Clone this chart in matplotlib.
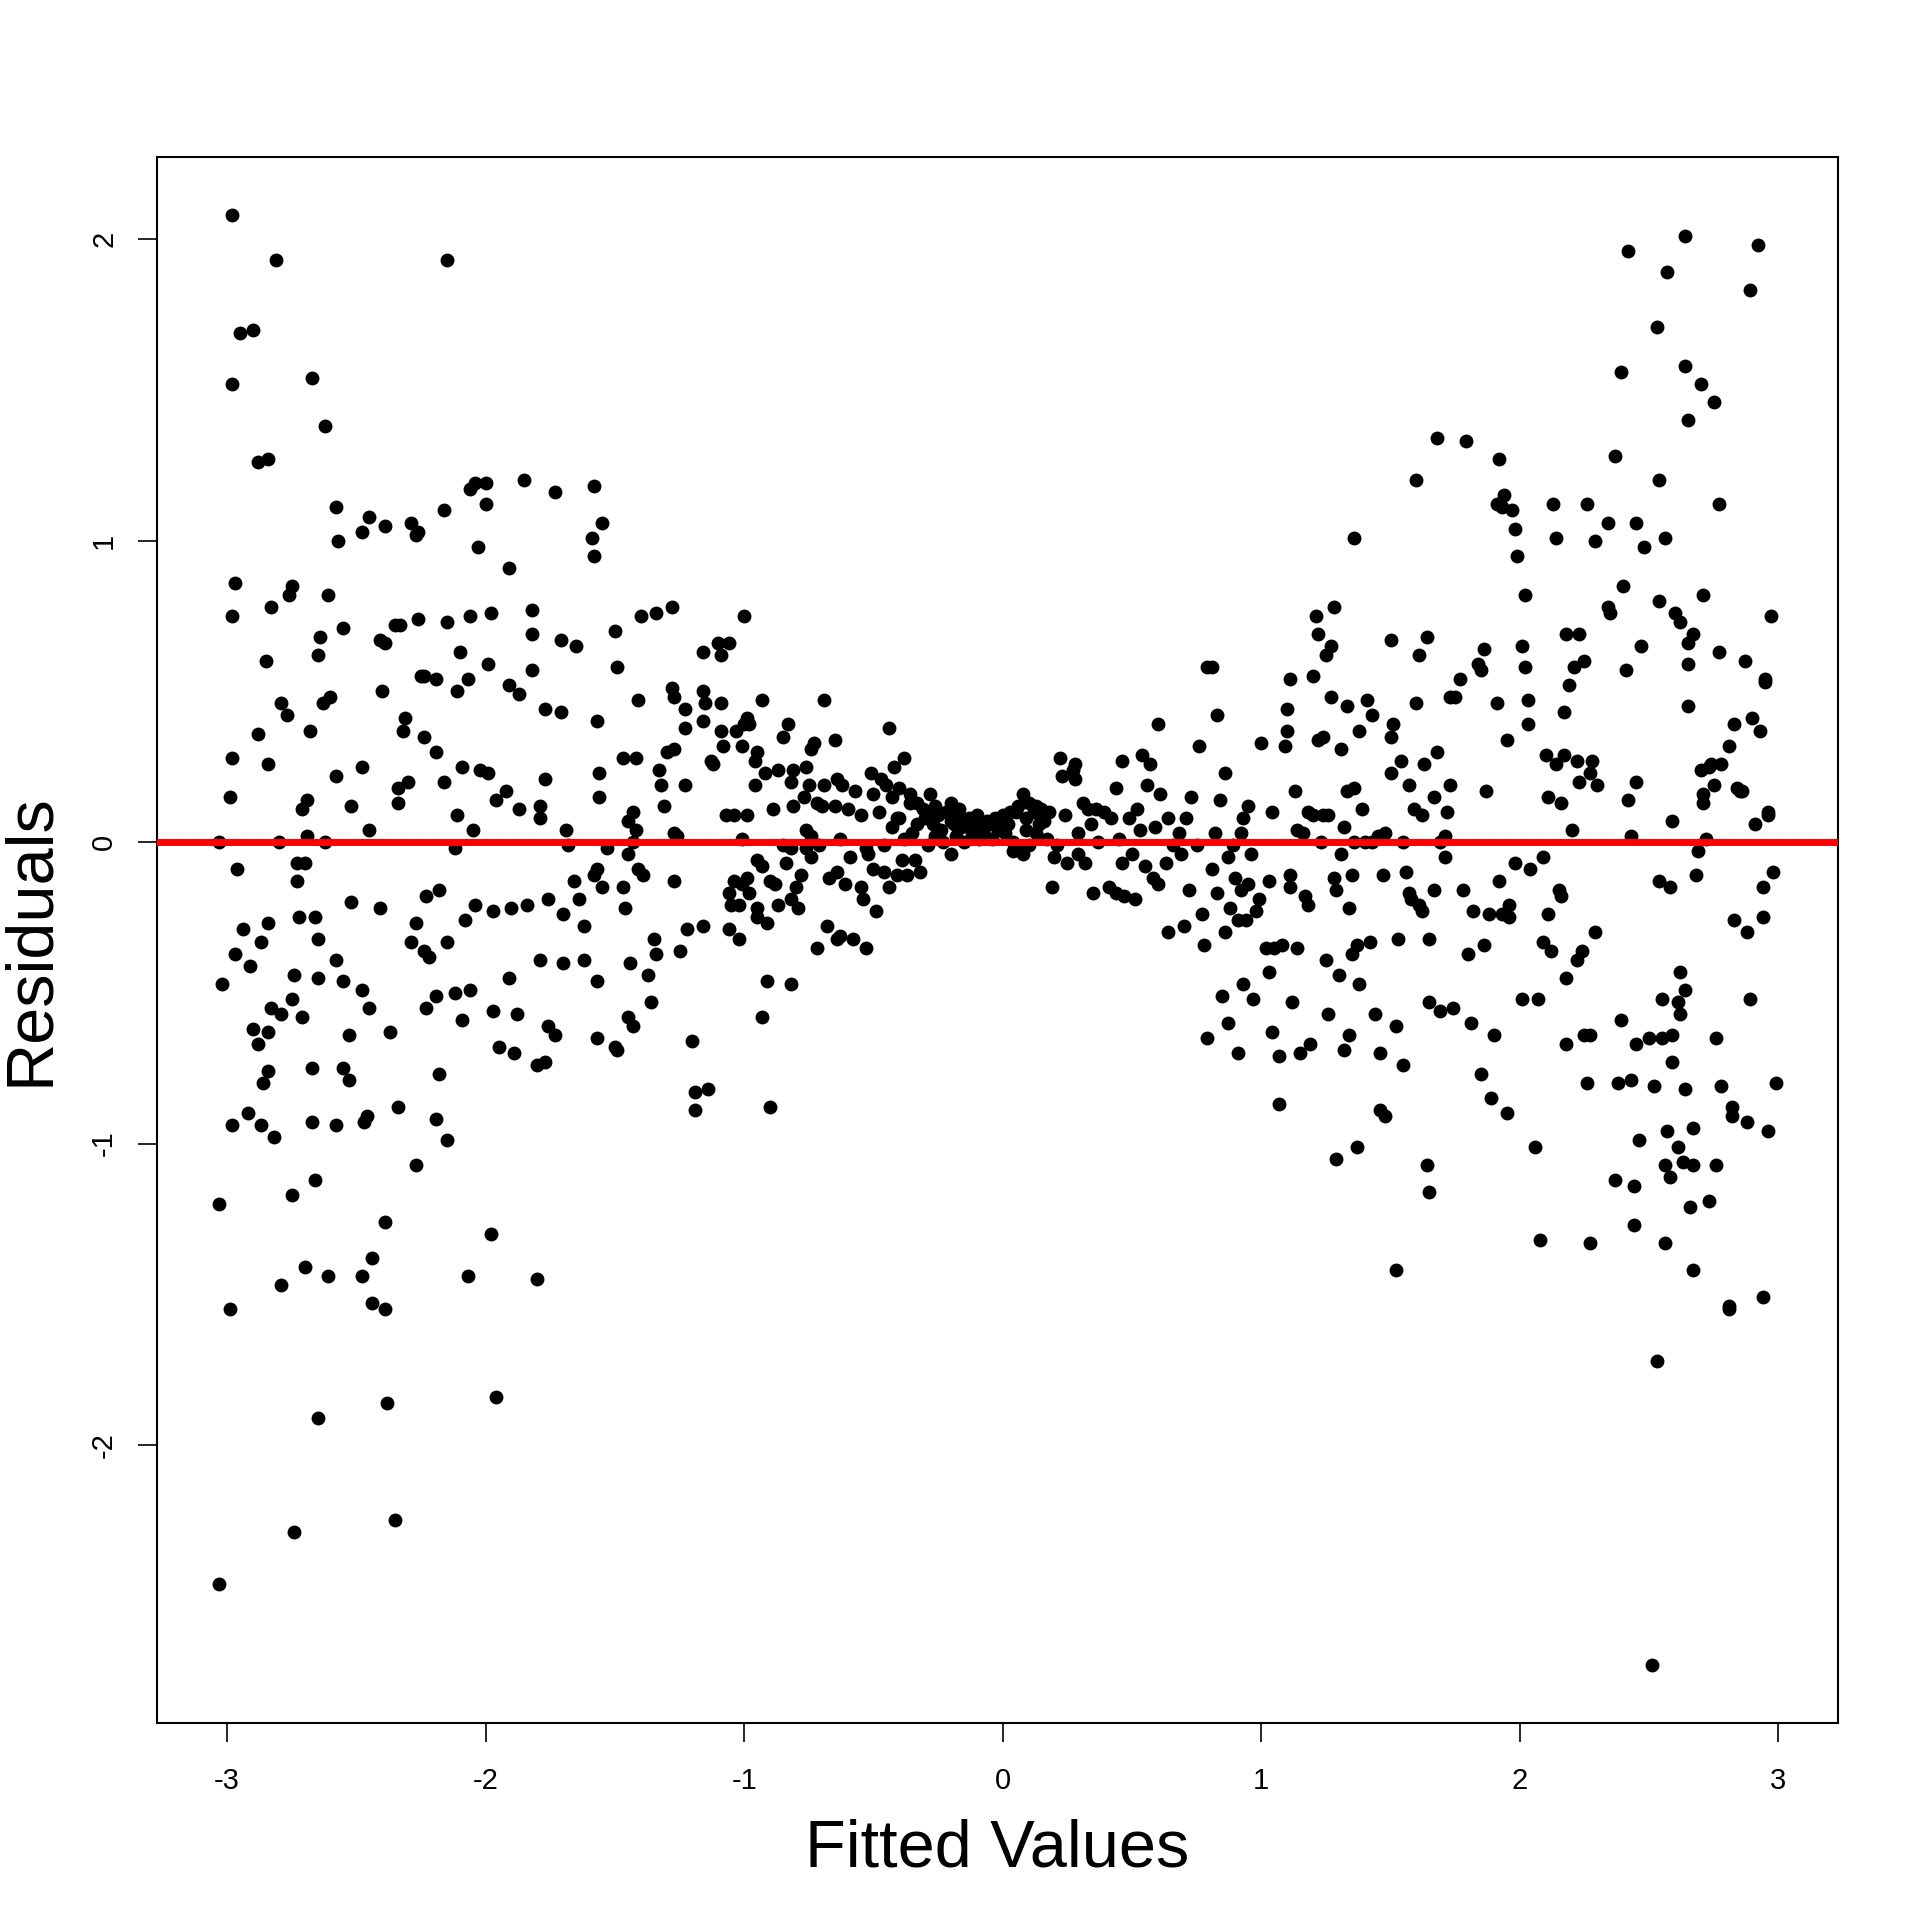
import numpy as np
import matplotlib
matplotlib.use('Agg')
import matplotlib.pyplot as plt

# (fitted, residual) pairs, grouped by fitted-value band
band_m300 = [(-2.98, 2.08), (-2.98, 1.52), (-2.95, 1.69), (-2.90, 1.70), (-2.81, 1.93),
             (-2.88, 1.26), (-2.84, 1.27), (-2.97, 0.86), (-2.98, 0.75), (-2.83, 0.78),
             (-2.85, 0.60), (-2.76, 0.82), (-2.75, 0.85), (-2.79, 0.46), (-2.77, 0.42),
             (-2.98, 0.28), (-2.88, 0.36), (-2.84, 0.26), (-2.99, 0.15), (-3.03, 0.00),
             (-2.96, -0.09), (-2.97, -0.37), (-2.94, -0.29), (-2.91, -0.41), (-3.02, -0.47),
             (-2.90, -0.62), (-2.88, -0.67), (-2.84, -0.63), (-2.86, -0.80), (-2.84, -0.76),
             (-2.83, -0.55), (-2.82, -0.98), (-2.79, -0.57), (-2.87, -0.33), (-2.84, -0.27),
             (-2.80, 0.00), (-2.98, -0.94), (-2.92, -0.90), (-2.87, -0.94), (-3.03, -1.20),
             (-2.99, -1.55), (-2.79, -1.47), (-3.03, -2.46), (-2.75, -1.17), (-2.74, -2.29)]

band_m275 = [(-2.67, 1.54), (-2.62, 1.38), (-2.58, 1.11), (-2.57, 1.00), (-2.61, 0.82),
             (-2.64, 0.68), (-2.65, 0.62), (-2.68, 0.37), (-2.63, 0.46), (-2.60, 0.48),
             (-2.58, 0.22), (-2.52, 0.12), (-2.55, 0.71), (-2.71, 0.11), (-2.69, 0.14),
             (-2.73, -0.07), (-2.70, -0.07), (-2.69, 0.02), (-2.62, 0.00), (-2.73, -0.13),
             (-2.66, -0.25), (-2.72, -0.25), (-2.65, -0.32), (-2.58, -0.39), (-2.65, -0.45),
             (-2.74, -0.44), (-2.75, -0.52), (-2.71, -0.58), (-2.55, -0.46), (-2.53, -0.64),
             (-2.55, -0.75), (-2.53, -0.79), (-2.67, -0.75), (-2.67, -0.93), (-2.58, -0.94),
             (-2.66, -1.12), (-2.70, -1.41), (-2.61, -1.44), (-2.65, -1.91), (-2.52, -0.20)]

band_m250 = [(-2.45, 1.08), (-2.48, 1.03), (-2.39, 1.05), (-2.41, 0.67), (-2.39, 0.66),
             (-2.35, 0.72), (-2.33, 0.72), (-2.40, 0.50), (-2.48, 0.25), (-2.45, 0.04),
             (-2.41, -0.22), (-2.48, -0.49), (-2.45, -0.55), (-2.47, -0.93), (-2.46, -0.91),
             (-2.48, -1.44), (-2.44, -1.38), (-2.44, -1.53), (-2.39, -1.55), (-2.39, -1.26),
             (-2.38, -1.86), (-2.37, -0.63), (-2.35, -2.25), (-2.34, -0.88), (-2.31, 0.41),
             (-2.32, 0.37), (-2.34, 0.18), (-2.34, 0.13), (-2.30, 0.20), (-2.29, -0.33),
             (-2.29, 1.06), (-2.26, 1.03), (-2.26, 0.74), (-2.25, 0.55), (-2.27, -0.27),
             (-2.27, -1.07), (-2.27, 1.02)]

band_m225 = [(-2.15, 1.93), (-2.16, 1.10), (-2.24, 0.55), (-2.19, 0.54), (-2.24, 0.35),
             (-2.19, 0.30), (-2.16, 0.20), (-2.15, 0.73), (-2.11, 0.50), (-2.10, 0.63),
             (-2.07, 0.54), (-2.09, 0.25), (-2.23, -0.18), (-2.24, -0.36), (-2.22, -0.38),
             (-2.18, -0.16), (-2.15, -0.33), (-2.19, -0.51), (-2.12, -0.50), (-2.23, -0.55),
             (-2.11, 0.09), (-2.12, -0.02), (-2.19, -0.92), (-2.18, -0.77), (-2.15, -0.99),
             (-2.09, -0.59), (-2.08, -0.26), (-2.06, -0.49), (-2.07, -1.44), (-2.04, 1.19),
             (-2.06, 1.17), (-2.03, 0.98), (-2.00, 1.19), (-2.00, 1.12), (-2.06, 0.75),
             (-2.05, 0.04), (-2.02, 0.24), (-2.04, -0.21)]

band_m200 = [(-1.99, 0.23), (-1.99, 0.59), (-1.98, 0.76), (-1.97, -0.23), (-1.97, -0.56),
             (-1.98, -1.30), (-1.96, -1.84), (-1.95, -0.68), (-1.96, 0.14), (-1.92, 0.17),
             (-1.91, 0.91), (-1.91, 0.52), (-1.90, -0.22), (-1.91, -0.45), (-1.88, -0.57),
             (-1.89, -0.70), (-1.85, 1.20), (-1.87, 0.49), (-1.87, 0.11), (-1.82, 0.77),
             (-1.82, 0.69), (-1.82, 0.57), (-1.84, -0.21), (-1.80, -0.74), (-1.79, -0.39),
             (-1.80, -1.45), (-1.79, 0.12), (-1.79, 0.08), (-1.77, 0.21), (-1.77, 0.44),
             (-1.77, -0.73), (-1.76, -0.61), (-1.76, -0.19)]

band_m175 = [(-1.73, 1.16), (-1.71, 0.67), (-1.73, -0.64), (-1.71, 0.43), (-1.70, -0.24),
             (-1.69, 0.04), (-1.68, -0.01), (-1.66, -0.13), (-1.70, -0.40), (-1.65, 0.65),
             (-1.64, -0.19), (-1.62, -0.39), (-1.62, -0.28), (-1.58, 1.18), (-1.59, 1.01),
             (-1.58, 0.95), (-1.58, -0.11), (-1.57, 0.40), (-1.57, -0.46), (-1.57, -0.65),
             (-1.55, 1.06), (-1.56, 0.23), (-1.56, 0.15), (-1.55, -0.15), (-1.57, -0.09),
             (-1.53, -0.02), (-1.50, 0.70), (-1.49, 0.58), (-1.50, -0.68), (-1.49, -0.69)]

band_m150 = [(-1.47, -0.15), (-1.47, 0.28), (-1.46, -0.22), (-1.45, 0.07), (-1.45, -0.58),
             (-1.45, -0.04), (-1.43, 0.00), (-1.43, 0.10), (-1.44, -0.40), (-1.43, -0.61),
             (-1.42, 0.04), (-1.40, 0.75), (-1.41, 0.47), (-1.41, -0.09), (-1.42, 0.28),
             (-1.39, -0.11), (-1.37, -0.44), (-1.36, -0.53), (-1.35, -0.32), (-1.34, -0.37),
             (-1.34, 0.76), (-1.32, 0.19), (-1.33, 0.24), (-1.31, 0.12), (-1.30, 0.30),
             (-1.28, 0.78), (-1.28, 0.51), (-1.27, 0.48), (-1.27, 0.31), (-1.27, 0.03),
             (-1.27, -0.13), (-1.25, -0.36), (-1.26, 0.02)]

band_m125 = [(-1.23, 0.44), (-1.23, 0.38), (-1.23, 0.19), (-1.22, -0.29), (-1.20, -0.66),
             (-1.19, -0.83), (-1.19, -0.89), (-1.16, 0.63), (-1.16, 0.50), (-1.16, 0.40),
             (-1.16, -0.28), (-1.15, 0.46), (-1.14, -0.82), (-1.13, 0.27), (-1.12, 0.26),
             (-1.10, 0.66), (-1.09, 0.46), (-1.09, 0.37), (-1.09, 0.62), (-1.06, 0.66),
             (-1.08, 0.32), (-1.07, 0.09), (-1.06, -0.29), (-1.06, -0.17), (-1.05, -0.21),
             (-1.04, -0.13), (-1.04, 0.09), (-1.03, 0.37), (-1.02, -0.32), (-1.02, -0.21),
             (-1.01, -0.14), (-1.01, 0.01), (-1.00, 0.75), (-1.01, 0.32), (-1.00, 0.39)]

band_m100 = [(-0.99, 0.41), (-0.99, 0.09), (-0.99, -0.12), (-0.98, 0.39), (-0.98, -0.17),
             (-0.96, 0.27), (-0.95, 0.30), (-0.96, 0.19), (-0.95, -0.06), (-0.95, -0.22),
             (-0.95, -0.25), (-0.93, -0.08), (-0.93, -0.58), (-0.93, 0.47), (-0.92, 0.23),
             (-0.91, -0.46), (-0.91, -0.27), (-0.90, -0.88), (-0.90, -0.13), (-0.89, 0.11),
             (-0.88, -0.14), (-0.87, -0.21), (-0.87, 0.24), (-0.85, 0.35), (-0.85, -0.01),
             (-0.84, -0.07), (-0.83, 0.39), (-0.82, -0.19), (-0.82, -0.47), (-0.82, 0.20),
             (-0.81, 0.24), (-0.81, 0.12), (-0.82, -0.02), (-0.80, -0.15), (-0.79, -0.22),
             (-0.78, -0.11), (-0.77, 0.15), (-0.76, 0.04), (-0.76, -0.02), (-0.76, 0.25),
             (-0.75, 0.19)]

band_m075 = [(-0.74, 0.31), (-0.73, 0.33), (-0.74, -0.05), (-0.74, 0.02), (-0.72, 0.13),
             (-0.72, -0.35), (-0.71, -0.01), (-0.70, 0.12), (-0.69, 0.47), (-0.69, 0.19),
             (-0.68, -0.28), (-0.67, -0.12), (-0.65, 0.34), (-0.65, 0.12), (-0.64, -0.10),
             (-0.64, 0.21), (-0.64, -0.32), (-0.63, -0.31), (-0.63, 0.01), (-0.62, 0.19),
             (-0.61, -0.14), (-0.60, 0.11), (-0.59, -0.05), (-0.58, -0.32), (-0.57, 0.17),
             (-0.55, 0.09), (-0.55, -0.15), (-0.54, -0.19), (-0.53, -0.02), (-0.53, -0.35),
             (-0.52, -0.04), (-0.51, 0.23), (-0.50, -0.09)]

band_m050 = [(-0.50, 0.16), (-0.49, -0.23), (-0.48, 0.10), (-0.47, 0.21), (-0.46, -0.01),
             (-0.46, -0.10), (-0.45, 0.19), (-0.44, -0.15), (-0.44, 0.38), (-0.43, 0.15),
             (-0.42, 0.25), (-0.41, -0.11), (-0.41, 0.08), (-0.40, 0.18), (-0.39, -0.06),
             (-0.38, 0.28), (-0.38, 0.01), (-0.37, -0.11), (-0.36, 0.13), (-0.35, 0.03),
             (-0.34, -0.06), (-0.33, 0.06), (-0.32, -0.10), (-0.31, 0.11), (-0.30, 0.08),
             (-0.29, -0.01), (-0.28, 0.16), (-0.27, 0.06), (-0.26, 0.12), (-0.26, 0.02),
             (-0.43, 0.05), (-0.40, 0.08), (-0.36, 0.16), (-0.33, 0.13), (-0.28, 0.09)]

band_m025 = [(-0.25, 0.09), (-0.24, 0.04), (-0.23, 0.00), (-0.21, 0.10), (-0.20, -0.04),
             (-0.20, 0.13), (-0.19, 0.06), (-0.18, 0.02), (-0.17, 0.09), (-0.16, 0.05),
             (-0.15, 0.00), (-0.13, 0.08), (-0.12, 0.03), (-0.11, 0.06), (-0.09, 0.01),
             (-0.08, 0.04), (-0.07, 0.02), (-0.05, 0.06), (-0.04, 0.01), (-0.02, 0.04),
             (-0.01, 0.05), (-0.22, 0.10), (-0.20, 0.07), (-0.17, 0.11), (-0.14, 0.06),
             (-0.10, 0.09), (-0.06, 0.07), (-0.03, 0.08)]

band_p000 = [(0.01, 0.03), (0.02, 0.06), (0.04, 0.00), (0.05, 0.10), (0.06, -0.02),
             (0.08, 0.16), (0.09, 0.04), (0.09, 0.08), (0.10, -0.01), (0.12, 0.10),
             (0.13, 0.03), (0.14, 0.06), (0.15, 0.11), (0.17, 0.01), (0.18, 0.10),
             (0.19, -0.15), (0.20, -0.05), (0.21, -0.01), (0.22, 0.28), (0.23, 0.22),
             (0.24, 0.09), (0.25, -0.07), (0.00, 0.09), (0.03, 0.10), (0.06, 0.12),
             (0.10, 0.13), (0.13, 0.12), (0.16, 0.07), (0.04, -0.03), (0.08, -0.04)]

band_p025 = [(0.27, 0.24), (0.28, 0.26), (0.28, 0.21), (0.29, 0.03), (0.29, -0.04),
             (0.31, 0.13), (0.32, -0.07), (0.33, 0.11), (0.34, 0.06), (0.35, -0.17),
             (0.36, 0.11), (0.37, 0.00), (0.39, 0.10), (0.41, -0.15), (0.42, 0.08),
             (0.44, 0.18), (0.44, -0.17), (0.45, 0.01), (0.46, 0.27), (0.46, -0.07),
             (0.47, -0.18), (0.49, 0.08), (0.50, -0.04), (0.51, -0.19)]

band_p050 = [(0.52, 0.11), (0.53, 0.04), (0.54, 0.29), (0.55, -0.08), (0.56, 0.19),
             (0.57, 0.26), (0.58, -0.12), (0.59, 0.05), (0.60, 0.39), (0.60, -0.14),
             (0.61, 0.16), (0.63, -0.07), (0.64, -0.30), (0.64, 0.08), (0.66, -0.01),
             (0.68, 0.03), (0.69, -0.04), (0.70, -0.28), (0.71, 0.08), (0.72, -0.16),
             (0.73, 0.15), (0.75, -0.01), (0.76, 0.32)]

band_p075 = [(0.77, -0.24), (0.78, -0.34), (0.79, -0.65), (0.79, 0.58), (0.81, 0.58),
             (0.81, -0.09), (0.82, 0.03), (0.83, -0.17), (0.83, 0.42), (0.84, 0.14),
             (0.85, -0.51), (0.86, -0.30), (0.86, 0.23), (0.87, -0.05), (0.87, -0.60),
             (0.88, -0.22), (0.89, -0.01), (0.90, -0.12), (0.91, -0.70), (0.91, -0.26),
             (0.92, 0.03), (0.92, -0.16), (0.93, -0.47), (0.93, 0.08), (0.94, -0.26),
             (0.95, -0.14), (0.95, 0.12), (0.96, -0.04), (0.97, -0.52), (0.98, -0.23),
             (0.99, -0.19)]

band_p100 = [(1.00, 0.33), (1.02, -0.35), (1.03, -0.43), (1.03, -0.13), (1.04, -0.63),
             (1.04, 0.10), (1.05, -0.35), (1.07, -0.71), (1.07, -0.87), (1.08, -0.34),
             (1.09, 0.32), (1.10, 0.44), (1.10, 0.37), (1.11, 0.54), (1.11, -0.11),
             (1.11, -0.15), (1.12, -0.53), (1.13, 0.17), (1.14, 0.04), (1.14, -0.35),
             (1.15, -0.70), (1.16, 0.03), (1.17, -0.18), (1.18, 0.10), (1.18, -0.21),
             (1.19, -0.67), (1.20, 0.55), (1.20, 0.09), (1.21, 0.75), (1.22, 0.34),
             (1.22, 0.69), (1.23, 0.00), (1.24, 0.09), (1.24, 0.35), (1.25, 0.62),
             (1.25, -0.39)]

band_p125 = [(1.26, 0.09), (1.26, -0.57), (1.27, 0.65), (1.27, 0.48), (1.28, -0.12),
             (1.28, 0.78), (1.29, -0.16), (1.29, -1.05), (1.30, -0.44), (1.31, 0.31),
             (1.31, -0.04), (1.32, 0.05), (1.32, -0.69), (1.33, 0.45), (1.33, 0.17),
             (1.34, -0.22), (1.34, -0.64), (1.35, -0.37), (1.35, -0.11), (1.36, 0.18),
             (1.36, 1.01), (1.36, 0.00), (1.37, -0.34), (1.37, -1.01), (1.38, -0.47),
             (1.38, 0.37), (1.39, 0.11), (1.40, 0.00), (1.41, 0.47), (1.42, -0.33),
             (1.43, 0.00), (1.43, 0.42), (1.44, -0.57), (1.45, 0.02), (1.46, -0.70),
             (1.46, -0.89), (1.47, -0.11), (1.48, -0.91), (1.48, 0.03), (1.50, 0.23),
             (1.50, 0.35), (1.50, 0.67)]

band_p150 = [(1.51, 0.39), (1.52, -1.42), (1.52, -0.61), (1.53, -0.32), (1.54, 0.27),
             (1.55, -0.74), (1.55, 0.00), (1.56, -0.10), (1.57, -0.17), (1.57, 0.19),
             (1.58, -0.19), (1.59, 0.11), (1.60, 1.20), (1.60, 0.46), (1.61, 0.62),
             (1.61, -0.21), (1.62, -0.23), (1.62, 0.09), (1.63, 0.26), (1.64, 0.68),
             (1.64, -1.07), (1.65, -0.32), (1.65, -1.16), (1.65, -0.53), (1.67, 0.15),
             (1.67, -0.16), (1.68, 1.34), (1.68, 0.30), (1.69, -0.56), (1.69, 0.00),
             (1.71, -0.05), (1.71, 0.02), (1.72, 0.10), (1.73, 0.48), (1.73, 0.19),
             (1.74, -0.55), (1.75, 0.48)]

band_p175 = [(1.77, 0.54), (1.78, -0.16), (1.79, 1.33), (1.80, -0.37), (1.81, -0.60),
             (1.82, -0.23), (1.84, 0.59), (1.85, 0.57), (1.85, -0.77), (1.86, 0.64),
             (1.86, -0.34), (1.87, 0.17), (1.88, -0.24), (1.89, -0.85), (1.90, -0.64),
             (1.91, 0.46), (1.91, 1.12), (1.92, 1.27), (1.92, -0.13), (1.93, 1.11),
             (1.93, -0.24), (1.94, 1.15), (1.95, 0.34), (1.95, -0.90), (1.96, -0.25),
             (1.96, -0.21), (1.97, 1.10), (1.98, 1.04), (1.98, -0.07), (1.99, 0.95)]

band_p200 = [(2.01, -0.52), (2.01, 0.65), (2.02, 0.58), (2.02, 0.82), (2.03, 0.39),
             (2.03, 0.47), (2.04, -0.09), (2.06, -1.01), (2.07, -0.52), (2.08, -1.32),
             (2.09, -0.05), (2.09, -0.33), (2.10, 0.29), (2.11, 0.15), (2.11, -0.24),
             (2.12, -0.36), (2.13, 1.12), (2.14, 0.26), (2.14, 1.01), (2.15, -0.16),
             (2.16, 0.13), (2.16, -0.18), (2.17, 0.43), (2.17, 0.29), (2.18, 0.69),
             (2.18, -0.67), (2.18, -0.45), (2.19, 0.52), (2.20, 0.04), (2.21, 0.58),
             (2.22, 0.27), (2.22, -0.39), (2.23, 0.20), (2.23, 0.69), (2.24, -0.36),
             (2.25, -0.64), (2.25, 0.60)]

band_p225 = [(2.26, -0.80), (2.26, 1.12), (2.27, -1.33), (2.27, 0.23), (2.27, -0.64),
             (2.28, 0.27), (2.29, 1.00), (2.29, -0.30), (2.30, 0.19), (2.34, 1.06),
             (2.34, 0.78), (2.35, 0.76), (2.37, -1.12), (2.38, -0.80), (2.37, 1.28),
             (2.39, -0.59), (2.39, 1.56), (2.40, 0.85), (2.41, 0.57), (2.42, 0.14),
             (2.42, 1.96), (2.43, -0.79), (2.43, 0.02), (2.44, -1.14), (2.44, -1.27),
             (2.45, 1.06), (2.45, -0.67), (2.45, 0.20), (2.46, -0.99), (2.47, 0.65),
             (2.48, 0.98), (2.50, -0.65)]

band_p250 = [(2.51, -2.73), (2.52, -0.81), (2.53, 1.71), (2.54, -0.13), (2.53, -1.72),
             (2.54, 1.20), (2.54, 0.80), (2.55, -0.65), (2.55, -0.52), (2.56, 1.01),
             (2.56, -1.07), (2.56, -1.33), (2.57, 1.89), (2.57, -0.96), (2.58, -1.11),
             (2.58, -0.15), (2.59, -0.73), (2.59, -0.64), (2.59, 0.07), (2.60, 0.76),
             (2.61, -0.53), (2.61, -1.01), (2.62, -0.43), (2.62, 0.73), (2.62, -0.57),
             (2.63, -1.06), (2.64, -0.82), (2.64, -0.49), (2.64, 2.01), (2.64, 1.58),
             (2.65, 1.40), (2.65, 0.59), (2.65, 0.66), (2.65, 0.45), (2.66, -1.21),
             (2.67, -1.07), (2.67, -1.42), (2.67, -0.95), (2.67, 0.69), (2.68, -0.11),
             (2.69, -0.03), (2.70, 1.52), (2.70, 0.24), (2.71, 0.13), (2.71, 0.82),
             (2.71, 0.16), (2.72, 0.01), (2.73, 0.25), (2.73, -1.19), (2.74, 0.26),
             (2.75, 0.19), (2.75, 1.46)]

band_p275 = [(2.76, -1.07), (2.76, -0.65), (2.77, 0.63), (2.77, 1.12), (2.78, -0.81),
             (2.78, 0.26), (2.81, -1.55), (2.81, -1.54), (2.81, 0.32), (2.82, -0.91),
             (2.82, -0.88), (2.83, -0.26), (2.83, 0.39), (2.84, 0.18), (2.85, 0.17),
             (2.86, 0.17), (2.87, 0.60), (2.88, -0.30), (2.88, -0.93), (2.89, 1.83),
             (2.89, -0.52), (2.90, 0.41), (2.91, 0.06), (2.92, 1.98), (2.93, 0.37),
             (2.94, -0.15), (2.94, -0.25), (2.94, -1.51), (2.95, 0.54), (2.95, 0.53),
             (2.96, 0.10), (2.96, 0.09), (2.96, -0.96), (2.97, 0.75), (2.98, -0.10),
             (2.99, -0.80)]

bands = [band_m300, band_m275, band_m250, band_m225, band_m200, band_m175,
         band_m150, band_m125, band_m100, band_m075, band_m050, band_m025,
         band_p000, band_p025, band_p050, band_p075, band_p100, band_p125,
         band_p150, band_p175, band_p200, band_p225, band_p250, band_p275]

x_ticks = [-3, -2, -1, 0, 1, 2, 3]
y_ticks = [-2, -1, 0, 1, 2]

pts = np.array([p for band in bands for p in band])
fitted = pts[:, 0]
resid = pts[:, 1]

plt.rcParams['font.family'] = ['Liberation Sans', 'DejaVu Sans']

fig = plt.figure(figsize=(19.2, 19.2), dpi=100)
ax = fig.add_axes([0.0818, 0.1026, 0.8755, 0.8156])

ax.scatter(fitted, resid, s=100, color='black', linewidths=0, zorder=2)
ax.axhline(0, color='#ff0000', linewidth=5, zorder=3)

# R-style 4% padding around the data range
xr = fitted.max() - fitted.min()
yr = resid.max() - resid.min()
ax.set_xlim(fitted.min() - 0.04 * xr, fitted.max() + 0.04 * xr)
ax.set_ylim(resid.min() - 0.04 * yr, resid.max() + 0.04 * yr)

ax.set_xticks(x_ticks)
ax.set_xticklabels([str(v) for v in x_ticks])
ax.set_yticks(y_ticks)
ax.set_yticklabels([str(v) for v in y_ticks], rotation=90, va='center')
ax.tick_params(axis='both', direction='out', length=14, width=1.2, labelsize=21, color='black')
ax.tick_params(axis='x', pad=18)
ax.tick_params(axis='y', pad=14)
for sp in ax.spines.values():
    sp.set_linewidth(1.5)

ax.set_xlabel("Fitted Values", fontsize=48, va='center')
ax.xaxis.set_label_coords(0.5, -0.0805)
ax.set_ylabel("Residuals", fontsize=48, va='center')
ax.yaxis.set_label_coords(-0.075, 0.5)

fig.savefig("out.png", dpi=100)
